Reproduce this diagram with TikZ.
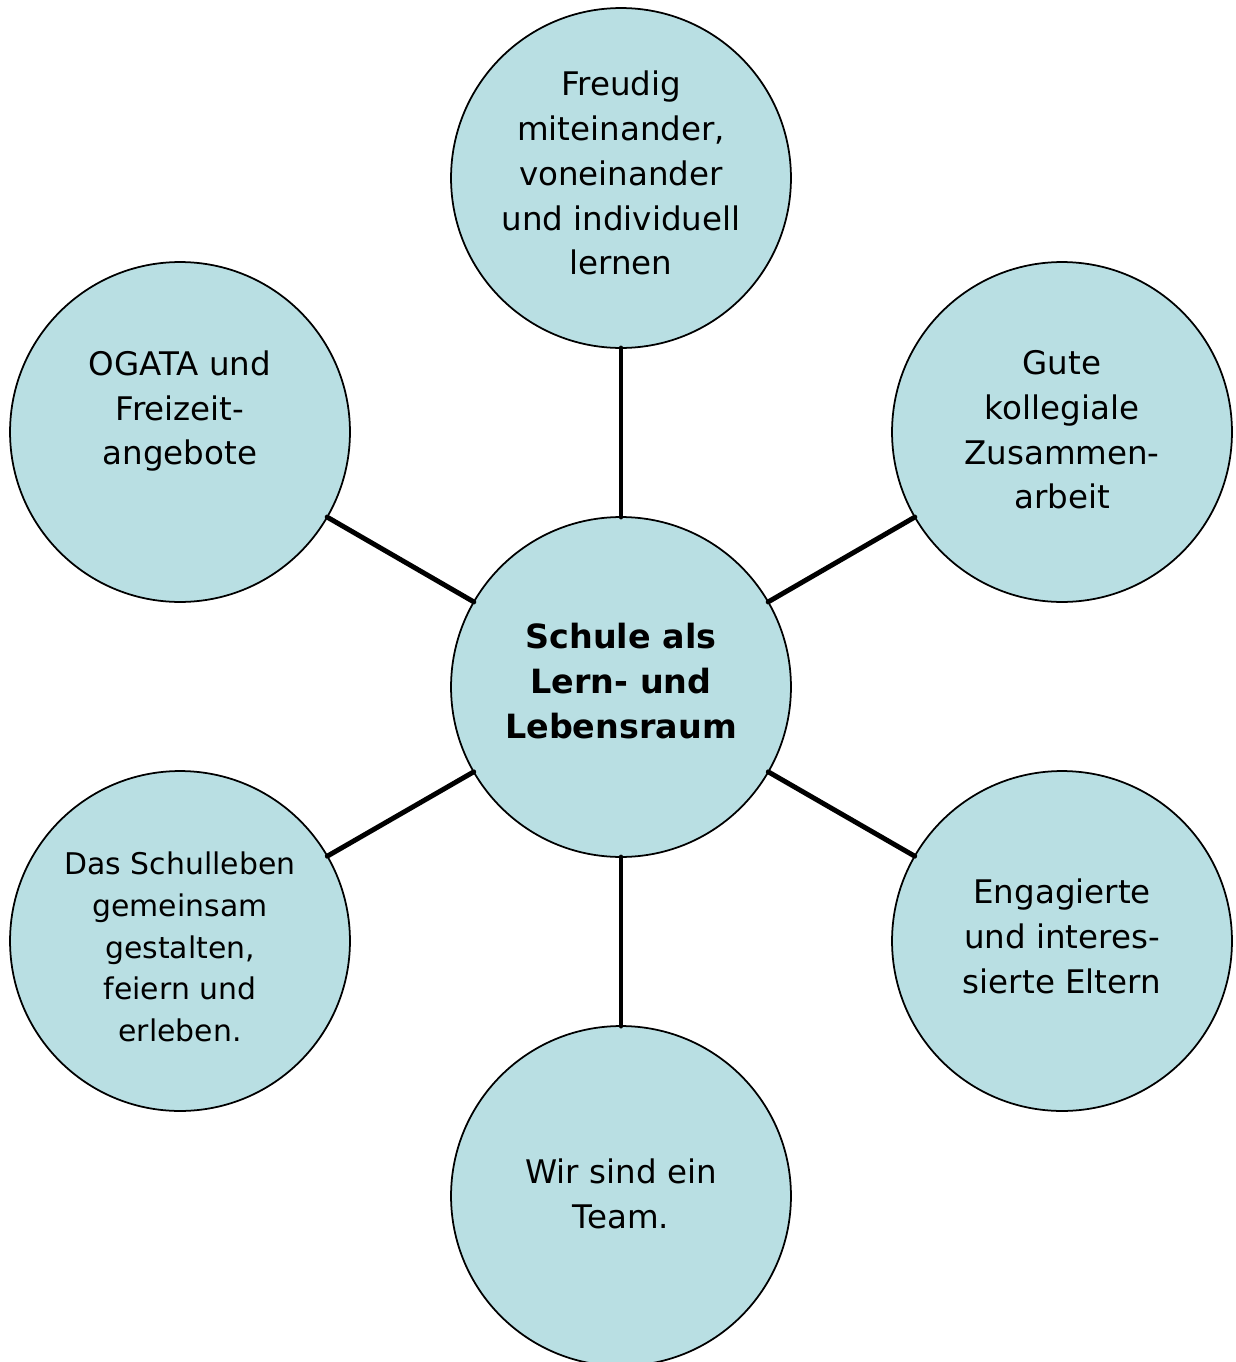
\documentclass[tikz,border=0pt]{standalone}
\usepackage{fontspec}
\setmainfont{DejaVu Sans}
\definecolor{kreis}{HTML}{B9DFE3}
\tikzset{
  bubble/.style={circle,draw=black,line width=1pt,fill=kreis,
    minimum size=6.8cm,inner sep=0pt,outer sep=0pt},
  txt/.style={align=center,inner sep=0pt,
    font=\fontsize{18.5}{25.5}\selectfont},
  link/.style={line width=2.8pt}
}
\begin{document}
\begin{tikzpicture}[x=0.02cm,y=-0.02cm,line cap=round,line join=round]
\useasboundingbox (0,0) rectangle (1235,1362);

% Kreise
\node[bubble] (M)  at (621,687)  {};
\node[bubble] (N)  at (621,178)  {};
\node[bubble] (NO) at (1062,432) {};
\node[bubble] (SO) at (1062,941) {};
\node[bubble] (S)  at (621,1196) {};
\node[bubble] (SW) at (180,941)  {};
\node[bubble] (NW) at (180,432)  {};

\foreach \k in {N,NO,SO,S,SW,NW}
  \draw[link] (M) -- (\k);

% Texte
\node[txt,font=\fontsize{19}{25.5}\selectfont\bfseries] (Mt) at ([yshift=3.4pt]M)
  {Schule als\\Lern- und\\Lebensraum};
\node[txt] (Nt)  at ([yshift=2.8pt]N)  {Freudig\\miteinander,\\voneinander\\und individuell\\lernen};
\node[txt] (NOt) at ([yshift=1.2pt]NO) {Gute\\kollegiale\\Zusammen-\\arbeit};
\node[txt] (SOt) at ([yshift=2.8pt]SO) {Engagierte\\und interes-\\sierte Eltern};
\node[txt] (St)  at ([yshift=1.2pt]S)  {Wir sind ein\\Team.};
\node[txt,font=\fontsize{17}{23.8}\selectfont] (SWt) at ([yshift=-3.4pt]SW)
  {Das Schulleben\\gemeinsam\\gestalten,\\feiern und\\erleben.};
\node[txt] (NWt) at ([yshift=11.9pt]NW) {OGATA und\\Freizeit-\\angebote};
\end{tikzpicture}
\end{document}
